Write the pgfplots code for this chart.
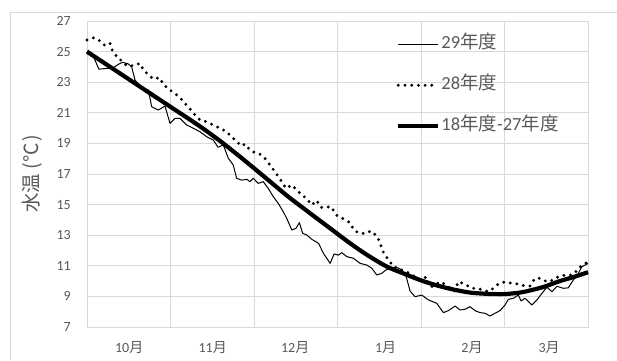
\documentclass[border=0pt]{standalone}
\usepackage{fontspec}
\setmainfont{Carlito}
\newfontfamily\cjk{Noto Sans CJK JP}
\usepackage{pgfplots}
\pgfplotsset{compat=1.18}
\definecolor{gridgray}{RGB}{217,217,217}
\definecolor{txtgray}{RGB}{89,89,89}

\begin{document}
\begin{tikzpicture}[x=1bp,y=1bp]
\useasboundingbox (0,0) rectangle (617,360);
\draw[gridgray, line width=0.75bp] (10,0) -- (10,348) -- (617,348);
\begin{axis}[
  at={(87bp,33bp)}, anchor=south west,
  scale only axis, width=501bp, height=306bp,
  xmin=0, xmax=180.5, ymin=7, ymax=27,
  clip=false,
  ytick={7,9,...,27},
  xtick={15.2,45.3,75.0,107.6,138.7,166.5},
  xticklabels={10{\cjk 月},11{\cjk 月},12{\cjk 月},1{\cjk 月},2{\cjk 月},3{\cjk 月}},
  extra x ticks={30.08,60.17,90.25,120.33,150.42},
  extra x tick labels={},
  extra x tick style={xmajorgrids=true},
  ymajorgrids=true,
  major tick length=0pt,
  tick style={draw=none},
  axis line style={gridgray, line width=0.75bp},
  grid style={gridgray, line width=0.75bp},
  /pgf/number format/assume math mode=true,
  every tick label/.append style={font=\fontsize{14bp}{16bp}\selectfont, text=txtgray},
  yticklabel style={anchor=east, inner sep=0pt, xshift=-16bp},
  xticklabel style={anchor=base, inner sep=0pt, yshift=-25bp},
  ylabel={\cjk 水温\hspace{4bp}(\hspace{1bp}℃\hspace{1bp})},
  every axis y label/.style={at={(axis description cs:-0.1098,0.5)}, rotate=90, anchor=center, font=\fontsize{19.5bp}{20bp}\selectfont, text=txtgray},
  legend style={at={(axis cs:111.4,26.1)}, anchor=north west, draw=none, fill=none, inner sep=0pt, outer sep=0pt,
    font=\fontsize{18.5bp}{20bp}\selectfont, text=txtgray, row sep=22bp, column sep=0pt,
    nodes={inner sep=1bp, text height=13bp, text depth=4bp}},
  legend cell align=left,
  legend image code/.code={\draw[#1] (0bp,0bp) -- (40bp,0bp);},
]
% 29年度
\addplot[black, line width=1bp, line join=round, no marks] coordinates {
(1.0,24.9)(2.5,24.6)(4.3,23.85)(7.1,23.9)(9.5,23.95)(11.3,24.17)(12.8,24.3)(14.8,24.2)(16.1,24.0)
(17.3,23.14)(19.7,22.6)(22.1,22.49)(23.3,21.4)(25.7,21.18)(28.1,21.44)(29.9,20.31)(31.7,20.64)
(33.5,20.64)(35.9,20.2)(38.3,19.99)(40.7,19.76)(43.1,19.44)(45.5,19.22)(47.2,18.75)(49.1,18.9)
(50.9,18.03)(52.7,17.59)(53.9,16.72)(55.7,16.6)(57.6,16.65)(58.7,16.5)(59.9,16.72)(61.7,16.39)
(63.5,16.5)(65.3,16.06)(67.1,15.52)(68.9,15.08)(70.7,14.54)(72.2,14.0)(73.8,13.34)(75.3,13.45)
(76.5,13.82)(77.7,13.12)(79.2,13.01)(81.0,12.73)(83.4,12.47)(85.2,11.81)(87.6,11.16)(89.0,11.77)
(90.6,11.7)(91.8,11.86)(93.6,11.6)(96.0,11.49)(98.4,11.16)(100.8,11.05)(102.6,10.84)(104.4,10.4)
(106.2,10.51)(107.7,10.73)(109.8,10.84)(111.6,10.9)(113.4,10.73)(115.0,10.29)(116.4,9.35)(118.2,8.98)
(120.6,9.09)(123.0,8.77)(126.0,8.55)(128.4,7.94)(130.2,8.07)(132.6,8.37)(134.4,8.11)(136.2,8.16)
(138.0,8.33)(139.8,8.07)(141.6,7.94)(143.4,7.9)(145.2,7.72)(147.0,7.9)(148.8,8.07)(150.6,8.44)
(151.8,8.81)(153.6,8.88)(155.4,9.09)(156.4,8.7)(157.8,8.88)(160.3,8.44)(162.1,8.77)(163.9,9.2)
(165.7,9.6)(167.5,9.31)(169.3,9.66)(171.6,9.53)(173.4,9.56)(175.2,10.07)(177.0,10.51)(178.3,10.94)
(180.5,11.15)
};
\addlegendentry{29{\cjk 年度}}
% 28年度
\addplot[black, line width=3.2bp, line cap=round, dash pattern=on 0bp off 6.7bp, no marks] coordinates {
(0,25.76)(2.5,25.91)(4.7,25.69)(6.5,25.39)(8.3,25.54)(9.1,25.1)(10.7,24.67)(12.5,24.39)(14.3,24.08)
(16.7,24.08)(19.1,24.23)(20.3,23.8)(22.1,23.5)(23.9,23.2)(26.1,23.3)(27.5,22.86)(29.3,22.56)
(31.7,22.27)(33.5,21.99)(35.3,21.62)(37.1,21.25)(38.9,20.86)(40.7,20.53)(43.1,20.42)(45.5,20.2)
(49.7,19.83)(51.5,19.55)(53.9,19.11)(55.7,18.83)(56.9,18.96)(58.5,18.61)(60.5,18.39)(62.3,18.3)
(64.1,18.03)(65.7,17.65)(67.7,17.15)(69.8,16.6)(71.7,16.06)(73.8,16.28)(75.6,15.95)(77.0,15.69)
(79.2,15.38)(81.0,14.97)(82.7,15.28)(84.3,14.82)(86.3,14.82)(87.8,14.88)(90.0,14.3)(92.4,14.07)
(94.8,13.82)(96.0,13.37)(97.8,13.15)(100.2,13.1)(102.2,13.28)(104.1,13.0)(105.5,12.57)(106.3,12.05)
(107.4,11.7)(108.9,11.33)(110.4,10.94)(112.2,10.84)(113.4,10.73)(114.6,10.62)(116.4,10.51)(117.6,10.35)
(119.0,10.1)(120.6,10.18)(122.2,10.25)(123.8,9.6)(127.4,9.96)(129.6,9.7)(132.4,9.35)(133.8,9.96)
(136.2,9.8)(138.6,9.53)(140.4,9.53)(142.8,9.42)(144.6,9.31)(146.4,9.53)(148.2,9.81)(150.6,9.96)
(153.0,9.85)(155.4,9.81)(157.8,9.68)(159.6,9.68)(161.4,10.18)(163.2,10.18)(165.7,9.96)(168.0,10.07)
(169.8,10.29)(172.3,10.4)(174.7,10.4)(176.5,10.68)(178.3,11.05)(180.5,11.25)
};
\addlegendentry{28{\cjk 年度}}
% 18年度-27年度
\addplot[black, line width=4.2bp, smooth, no marks] coordinates {
(0,25.0)(10,23.8)(20,22.6)(30,21.4)(40,20.2)(48,19.15)(56,18.0)(65,16.65)(72.5,15.52)
(80.4,14.43)(87.6,13.45)(94.8,12.47)(101,11.7)(108,10.95)(114,10.5)(120,10.07)(126,9.72)
(132,9.45)(138,9.25)(144,9.17)(150,9.15)(156,9.25)(161,9.45)(165,9.65)(170,9.98)(175,10.25)(180.5,10.58)
};
\addlegendentry{18{\cjk 年度}-27{\cjk 年度}}
\end{axis}
\end{tikzpicture}
\end{document}
